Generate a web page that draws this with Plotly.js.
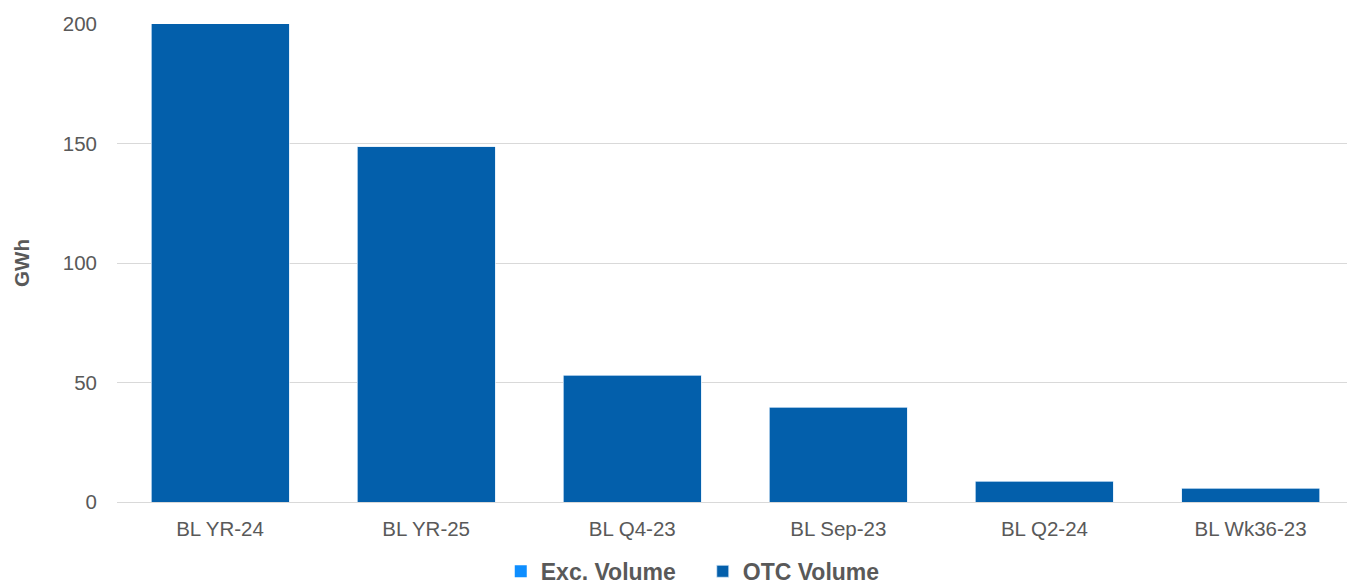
<!DOCTYPE html>
<html>
<head>
<meta charset="utf-8">
<script src="https://cdn.plot.ly/plotly-3.0.1.min.js"></script>
<style>html,body{margin:0;padding:0;background:#fff;}#chart{width:1347px;height:586px;}</style>
</head>
<body>
<div id="chart"></div>
<script>
const categories = ["BL YR-24", "BL YR-25", "BL Q4-23", "BL Sep-23", "BL Q2-24", "BL Wk36-23"];
const excVolume = [0, 0, 0, 0, 0, 0];
const otcVolume = [200.3, 148.7, 53.0, 39.7, 8.7, 5.8];
const yTicks = [0, 50, 100, 150, 200];

const font = "Liberation Sans, Arial, sans-serif";
const grey = "#595959";

const data = [
  {type: "bar", name: "<b>Exc. Volume</b>", x: categories, y: excVolume,
   marker: {color: "#0E8EFF", line: {width: 0}}, hoverinfo: "skip"},
  {type: "bar", name: "<b>OTC Volume</b>", x: categories, y: otcVolume,
   marker: {color: "#035FAB", line: {width: 0.8, color: "rgba(220,235,250,0.9)"}}, hoverinfo: "skip"}
];

const layout = {
  width: 1347, height: 586,
  margin: {l: 117, r: 0, t: 23.5, b: 84, autoexpand: false},
  paper_bgcolor: "#fff", plot_bgcolor: "#fff",
  barmode: "stack", bargap: 0.33,
  font: {family: font, color: grey, size: 20},
  xaxis: {
    type: "category", showgrid: false, zeroline: false,
    range: [-0.5, 5.468],
    showline: true, linecolor: "#d9d9d9", linewidth: 1,
    ticks: "", tickfont: {size: 20.5, color: grey, family: font},
    ticklabelstandoff: 8, automargin: false
  },
  yaxis: {
    range: [0, 200], tickvals: yTicks, ticktext: yTicks.map(String),
    showgrid: true, gridcolor: "#d9d9d9", gridwidth: 1,
    zeroline: false, showline: false, ticks: "",
    tickfont: {size: 20.5, color: grey, family: font},
    ticklabelstandoff: 19, automargin: false,
    title: {text: "<b>GWh</b>", font: {size: 20.5, color: grey, family: font}, standoff: 27}
  },
  showlegend: true,
  legend: {
    orientation: "h", x: 0.312, xanchor: "left", y: -0.1, yanchor: "top",
    font: {size: 23, color: grey, family: font}, traceorder: "normal",
    entrywidth: 157, entrywidthmode: "pixels",
    itemclick: false, itemdoubleclick: false
  }
};

Plotly.newPlot("chart", data, layout, {displayModeBar: false, staticPlot: true});
</script>
</body>
</html>
